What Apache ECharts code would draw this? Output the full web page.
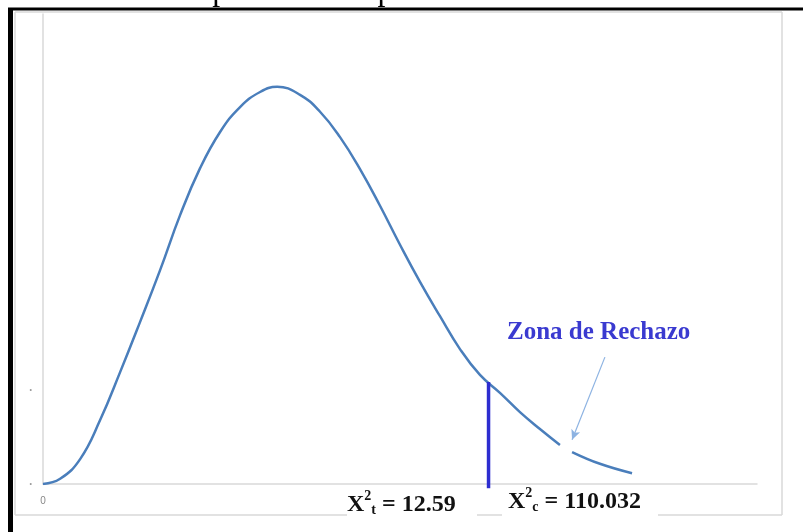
<!DOCTYPE html>
<html>
<head>
<meta charset="utf-8">
<script src="https://cdn.jsdelivr.net/npm/echarts@6/dist/echarts.min.js"></script>
<style>
  html, body { margin: 0; padding: 0; background: #fff; }
  #main { width: 803px; height: 532px; }
</style>
</head>
<body>
<div id="main"></div>
<script>
// datos (eje x 0-100, eje y 0-100)
const titulo = 'Gráfico 3: Aceptación de hipótesis';
const curvaX = [0, 2.4, 5.2, 8.0, 10.8, 13.6, 16.4, 19.2, 22.0, 24.8, 27.6, 30.4, 32.8,
	36.0, 38.8, 41.6, 44.4, 47.2, 50.0, 52.8, 55.6, 58.4, 61.2, 64.0, 66.8, 69.6, 72.4, 73.2, 74.1, 78.0, 82.5];
const curvaY = [0, 1.1, 5.3, 13.6, 23.8, 34.5, 45.5, 57.2, 67.2, 74.9, 80.2, 83.4, 84.5,
	82.8, 79.2, 73.8, 67.0, 59.2, 50.9, 43.0, 35.7, 28.7, 23.2, 19.4, 15.3, 11.7, 8.3, null, 6.8, 4.3, 2.3];
const criticoX = 62.4;
const criticoY = [21.7, -0.9];
const flechaDesde = [78.7, 27.0];
const flechaHasta = [74.1, 9.4];
const zonaTexto = 'Zona de Rechazo';
const chiTabla = '12.59';
const chiCalc = '110.032';

let myChart = echarts.init(document.getElementById('main'));

let curva = curvaX.map((x, i) => [x, curvaY[i] === null ? '-' : curvaY[i]]);
let corte = criticoY.map(y => [criticoX, y]);

const gris = '#d9d9d9';
const serif = '"Liberation Serif", "DejaVu Serif", serif';

let etiqueta = function (sub, valor) {
	let base = { fontWeight: 'bold', fontFamily: serif, fill: '#111' };
	return {
		text: '{x|X}{s|2}{b|' + sub + '}{v| = ' + valor + '}',
		rich: {
			x: Object.assign({ fontSize: 24, verticalAlign: 'bottom', lineHeight: 30 }, base),
			s: Object.assign({ fontSize: 14, verticalAlign: 'top', lineHeight: 30, padding: [2, 0, 0, 0] }, base),
			b: Object.assign({ fontSize: 14, verticalAlign: 'bottom', lineHeight: 24 }, base),
			v: Object.assign({ fontSize: 24, verticalAlign: 'bottom', lineHeight: 30 }, base)
		}
	};
};

let option = {
	backgroundColor: '#fff',
	animation: false,
	grid: { left: 43, top: 14, right: 46, bottom: 48 },
	xAxis: {
		type: 'value',
		min: 0,
		max: 100,
		interval: 100,
		axisLine: { show: true, lineStyle: { color: gris, width: 1.5 } },
		axisTick: { show: false },
		splitLine: { show: false },
		axisLabel: {
			formatter: v => v === 0 ? '0' : '',
			color: '#888', fontSize: 10, margin: 12
		}
	},
	yAxis: {
		type: 'value',
		min: 0,
		max: 100,
		interval: 20,
		axisLine: { show: true, lineStyle: { color: gris, width: 1.5 } },
		axisTick: { show: false },
		splitLine: { show: false },
		axisLabel: {
			formatter: v => v <= 20 ? '•' : '',
			color: '#999', fontSize: 7, margin: 11
		}
	},
	series: [
		{
			name: 'curva',
			type: 'line',
			data: curva,
			smooth: 0.45,
			showSymbol: false,
			lineStyle: { color: '#4a7ebb', width: 2.5 },
			markLine: {
				silent: true,
				symbol: ['none', 'arrow'],
				symbolSize: [7, 10],
				label: { show: false },
				lineStyle: { color: '#8db3e2', width: 1.2, type: 'solid' },
				data: [[{ coord: flechaDesde }, { coord: flechaHasta }]]
			}
		},
		{
			name: 'critico',
			type: 'line',
			data: corte,
			clip: false,
			showSymbol: false,
			lineStyle: { color: '#2d2dd0', width: 3.5 }
		}
	],
	graphic: [
		// titulo recortado arriba
		{ type: 'text', left: 22, top: -24, style: { text: titulo, font: 'normal 32px ' + serif, fill: '#000' } },
		// marco del area del grafico
		{ type: 'line', shape: { x1: 15, y1: 12, x2: 782, y2: 12 }, style: { stroke: gris, lineWidth: 1.5 } },
		{ type: 'line', shape: { x1: 15, y1: 12, x2: 15, y2: 515 }, style: { stroke: gris, lineWidth: 1.5 } },
		{ type: 'line', shape: { x1: 782, y1: 12, x2: 782, y2: 515 }, style: { stroke: gris, lineWidth: 1.5 } },
		{ type: 'line', shape: { x1: 15, y1: 515, x2: 347, y2: 515 }, style: { stroke: gris, lineWidth: 1.5 } },
		{ type: 'line', shape: { x1: 477, y1: 515, x2: 502, y2: 515 }, style: { stroke: gris, lineWidth: 1.5 } },
		{ type: 'line', shape: { x1: 658, y1: 515, x2: 782, y2: 515 }, style: { stroke: gris, lineWidth: 1.5 } },
		// marco negro
		{ type: 'line', shape: { x1: 8, y1: 9, x2: 803, y2: 9 }, style: { stroke: '#000', lineWidth: 3 } },
		{ type: 'line', shape: { x1: 10.5, y1: 8, x2: 10.5, y2: 532 }, style: { stroke: '#000', lineWidth: 5 } },
		// textos
		{ type: 'text', left: 507, top: 320, style: { text: zonaTexto, font: 'bold 25px ' + serif, fill: '#3a3ad0' } },
		{ type: 'text', left: 347, top: 487, style: etiqueta('t', chiTabla) },
		{ type: 'text', left: 508, top: 484, style: etiqueta('c', chiCalc) }
	]
};
myChart.setOption(option);
</script>
</body>
</html>
